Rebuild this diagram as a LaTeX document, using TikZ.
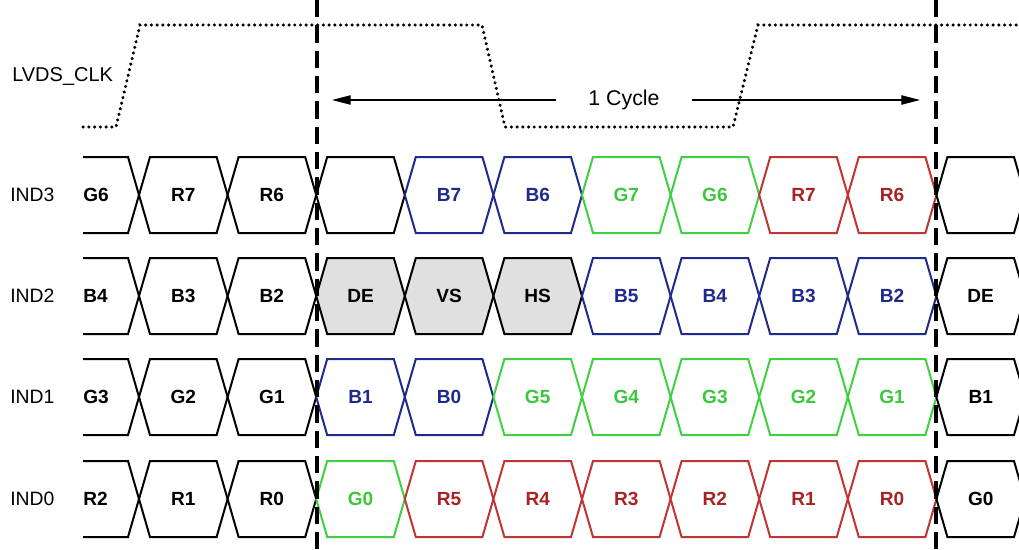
\documentclass[tikz,border=0pt]{standalone}
\usepackage{fontspec}
\setmainfont{Liberation Sans}
\usetikzlibrary{arrows.meta}
\definecolor{cblue}{HTML}{1E2A8C}
\definecolor{cgreen}{HTML}{40D040}
\definecolor{cred}{HTML}{C03434}
\definecolor{tblue}{HTML}{1E2A8C}
\definecolor{tgreen}{HTML}{3CC83C}
\definecolor{tred}{HTML}{A82424}
\definecolor{cgray}{HTML}{E0E0E0}
\newcommand{\hexcell}[4]{% #1 y, #2 k, #3 draw colour, #4 fill
  \pgfmathsetmacro\xa{139+88.6*#2}
  \pgfmathsetmacro\xb{\xa+88.6}
  \filldraw[cellline, draw=#3, fill=#4] (\xa,#1) -- (\xa+11,#1-38) -- (\xb-11,#1-38) -- (\xb,#1) -- (\xb-11,#1+38) -- (\xa+11,#1+38) -- cycle;
}
\newcommand{\firstcell}[1]{%
  \draw[cellline] (83,#1-38) -- (128,#1-38) -- (139,#1) -- (128,#1+38) -- (83,#1+38);
}
\begin{document}
\begin{tikzpicture}[x=0.75pt,y=-0.75pt,
  cellline/.style={line width=1.5pt, line join=miter},
  celltext/.style={inner sep=0pt, font=\fontsize{14.3}{16}\selectfont\bfseries},
  rowlabel/.style={inner sep=0pt, anchor=west, font=\fontsize{14.5}{16}\selectfont},
  clk/.style={line width=2.4pt, line cap=round, dash pattern=on 0.2pt off 4.1pt},
  vdash/.style={line width=2.4pt, dash pattern=on 13pt off 6pt},
  arr/.style={line width=0.8pt, -{Triangle[length=14pt,width=7pt]}}]
\useasboundingbox (0,0) rectangle (1019,549);
\clip (0,0) rectangle (1019,549);
\fill[white] (0,0) rectangle (1019,549);

% clock
\node[rowlabel, font=\fontsize{15}{16}\selectfont] (clklab) at (12,77) {LVDS\_CLK};
\coordinate (k1) at (83,127);
\coordinate (k2) at (116,127);
\coordinate (k3) at (140,25);
\coordinate (k4) at (482,25);
\coordinate (k5) at (505,127);
\coordinate (k6) at (733,127);
\coordinate (k7) at (758,25);
\coordinate (k8) at (1019,25);
\draw[clk] (k1) -- (k2) -- (k3) -- (k4) -- (k5) -- (k6) -- (k7) -- (k8);

% cycle arrow
\node[inner ysep=0pt, inner xsep=24pt, font=\fontsize{16}{18}\selectfont] (cyc) at (624,100) {1 Cycle};
\coordinate (al) at (332,100);
\coordinate (ar) at (920,100);
\draw[arr] (cyc) -- (al);
\draw[arr] (cyc) -- (ar);

% row labels
\node[rowlabel] (l3) at (10,195) {IND3};
\node[rowlabel] (l2) at (10,296) {IND2};
\node[rowlabel] (l1) at (10,397) {IND1};
\node[rowlabel] (l0) at (10,499) {IND0};

% IND3
\firstcell{195}
\node[celltext, anchor=west] (r3f) at (83,195) {G6};
\foreach \k/\t/\c/\f/\tc in {0/R7/black/white/black,1/R6/black/white/black,2/{}/black/white/black,
  3/B7/cblue/white/tblue,4/B6/cblue/white/tblue,5/G7/cgreen/white/tgreen,6/G6/cgreen/white/tgreen,
  7/R7/cred/white/tred,8/R6/cred/white/tred,9/{}/black/white/black}{
  \hexcell{195}{\k}{\c}{\f}
  \node[celltext, text=\tc] (r3c\k) at ({139+88.6*\k+44.3},195) {\t};
}
% IND2
\firstcell{296}
\node[celltext, anchor=west] (r2f) at (83,296) {B4};
\foreach \k/\t/\c/\f/\tc in {0/B3/black/white/black,1/B2/black/white/black,2/DE/black/cgray/black,
  3/VS/black/cgray/black,4/HS/black/cgray/black,5/B5/cblue/white/tblue,6/B4/cblue/white/tblue,
  7/B3/cblue/white/tblue,8/B2/cblue/white/tblue,9/DE/black/white/black}{
  \hexcell{296}{\k}{\c}{\f}
  \node[celltext, text=\tc] (r2c\k) at ({139+88.6*\k+44.3},296) {\t};
}
% IND1
\firstcell{397}
\node[celltext, anchor=west] (r1f) at (83,397) {G3};
\foreach \k/\t/\c/\f/\tc in {0/G2/black/white/black,1/G1/black/white/black,2/B1/cblue/white/tblue,
  3/B0/cblue/white/tblue,4/G5/cgreen/white/tgreen,5/G4/cgreen/white/tgreen,6/G3/cgreen/white/tgreen,
  7/G2/cgreen/white/tgreen,8/G1/cgreen/white/tgreen,9/B1/black/white/black}{
  \hexcell{397}{\k}{\c}{\f}
  \node[celltext, text=\tc] (r1c\k) at ({139+88.6*\k+44.3},397) {\t};
}
% IND0
\firstcell{499}
\node[celltext, anchor=west] (r0f) at (83,499) {R2};
\foreach \k/\t/\c/\f/\tc in {0/R1/black/white/black,1/R0/black/white/black,2/G0/cgreen/white/tgreen,
  3/R5/cred/white/tred,4/R4/cred/white/tred,5/R3/cred/white/tred,6/R2/cred/white/tred,
  7/R1/cred/white/tred,8/R0/cred/white/tred,9/G0/black/white/black}{
  \hexcell{499}{\k}{\c}{\f}
  \node[celltext, text=\tc] (r0c\k) at ({139+88.6*\k+44.3},499) {\t};
}

% cycle boundaries
\coordinate (d1t) at (317,0);
\coordinate (d1b) at (317,549);
\coordinate (d2t) at (936,0);
\coordinate (d2b) at (936,549);
\draw[vdash] (d1t) -- (d1b);
\draw[vdash] (d2t) -- (d2b);
\end{tikzpicture}
\end{document}
